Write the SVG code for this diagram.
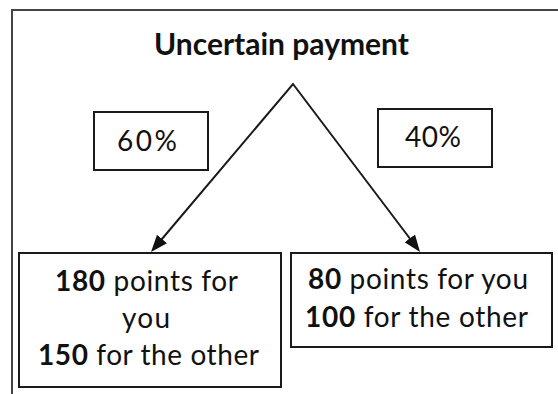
<svg xmlns="http://www.w3.org/2000/svg" width="558" height="394" viewBox="0 0 558 394">
  <style>
    .frame { fill: none; stroke: #444; stroke-width: 2; }
    .box { fill: #fff; stroke: #1a1a1a; stroke-width: 2; }
    .txt { font-family: Lato, "Open Sans", "Liberation Sans", sans-serif; font-size: 28px; fill: #111; text-anchor: middle; }
    .title { font-size: 30px; font-weight: bold; }
    .b { font-weight: bold; }
    .conn { fill: none; stroke: #1a1a1a; stroke-width: 2; stroke-linejoin: miter; }
  </style>
  <defs>
    <marker id="arrow" markerUnits="userSpaceOnUse" markerWidth="20" markerHeight="16" refX="2" refY="7" orient="auto-start-reverse" viewBox="0 0 20 14">
      <path d="M0,0.5 L17,7 L0,13.5 z" fill="#111"/>
    </marker>
  </defs>
  <rect width="558" height="394" fill="#fff"/>
  <path class="frame" d="M12,394 V10 H558"/>

  <g id="title">
    <text class="txt title" x="281.5" y="55" textLength="255">Uncertain payment</text>
  </g>

  <g id="connectors">
    <path class="conn" d="M160.7,240.5 L293,84 L411,240" marker-start="url(#arrow)" marker-end="url(#arrow)"/>
  </g>

  <g id="p60">
    <rect class="box" x="94" y="112" width="114" height="58"/>
    <text class="txt" x="147" y="151" textLength="60">60%</text>
  </g>

  <g id="p40">
    <rect class="box" x="378" y="109" width="114" height="58"/>
    <text class="txt" x="433" y="147" textLength="56">40%</text>
  </g>

  <g id="outcome-left">
    <rect class="box" x="19" y="253" width="262" height="134"/>
    <text class="txt" x="146.5" y="291" textLength="183"><tspan class="b">180</tspan> points for</text>
    <text class="txt" x="146" y="328" textLength="48">you</text>
    <text class="txt" x="148.5" y="365" textLength="221"><tspan class="b">150</tspan> for the other</text>
  </g>

  <g id="outcome-right">
    <rect class="box" x="291" y="253" width="261" height="94"/>
    <text class="txt" x="418" y="289" textLength="220"><tspan class="b">80</tspan> points for you</text>
    <text class="txt" x="416.5" y="327" textLength="223"><tspan class="b">100</tspan> for the other</text>
  </g>
</svg>
